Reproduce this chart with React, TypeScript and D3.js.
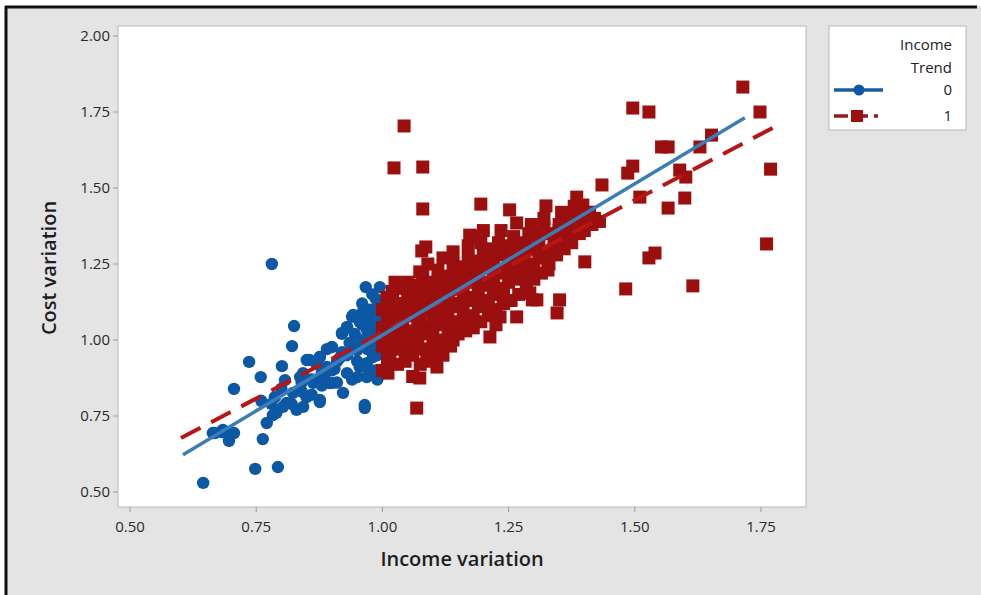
import React from 'react';
import * as d3 from 'd3';

// group 0 (income trend down) - circles
const trend0: [number, number][] = [
  [0.781, 1.25], [0.967, 1.174], [0.995, 1.174], [0.987, 1.135], [0.825, 1.046], [0.821, 0.98],
  [0.736, 0.928], [0.801, 0.914], [0.759, 0.878], [0.706, 0.839], [0.965, 0.776], [0.763, 0.674],
  [0.664, 0.694], [0.684, 0.704], [0.706, 0.694], [0.696, 0.668], [0.748, 0.576], [0.793, 0.582],
  [0.645, 0.53], [0.771, 0.727], [0.783, 0.753], [0.803, 0.78], [0.807, 0.868], [0.837, 0.878],
  [0.85, 0.934], [0.876, 0.944], [0.9, 0.977], [0.92, 1.02], [0.94, 1.076], [0.96, 1.089],
  [0.922, 0.826], [0.876, 0.796], [0.843, 0.78], [0.823, 0.826], [0.85, 0.812], [0.902, 0.859],
  [0.93, 0.891], [0.955, 0.911], [0.969, 0.878], [0.95, 0.967], [0.969, 0.99], [0.981, 0.944],
  [0.981, 1.023], [0.975, 1.056], [0.89, 0.911], [0.863, 0.859], [0.83, 0.77], [0.81, 0.793],
  [0.787, 0.812], [0.76, 0.8], [0.79, 0.76], [0.82, 0.79], [0.84, 0.83], [0.86, 0.87], [0.88, 0.89],
  [0.91, 0.93], [0.93, 0.95], [0.95, 1.0], [0.97, 1.03], [0.99, 1.06], [0.98, 1.09], [0.96, 1.05],
  [0.94, 0.98], [0.92, 0.96], [0.9, 0.9], [0.88, 0.85], [0.86, 0.82], [0.91, 0.86], [0.94, 0.87],
  [0.97, 0.91], [0.99, 0.95], [0.99, 1.0], [0.97, 0.97], [0.95, 0.93], [0.93, 1.04], [0.96, 1.12],
  [0.98, 1.15], [0.89, 0.97], [0.87, 0.92], [0.84, 0.86], [0.8, 0.84], [0.78, 0.79], [0.702, 0.694],
  [0.682, 0.697], [0.668, 0.694], [0.942, 1.082], [0.96, 1.082], [0.93, 1.043], [0.92, 1.023],
  [0.856, 0.934], [0.876, 0.944], [0.843, 0.891], [0.87, 0.868], [0.895, 0.858], [0.876, 0.803],
  [0.965, 0.786], [0.95, 0.878], [0.969, 0.924], [0.981, 0.977], [0.975, 1.033], [0.961, 1.0],
  [0.837, 0.836], [0.985, 1.08], [0.99, 1.11], [0.975, 1.1], [0.955, 1.06], [0.945, 1.02],
  [0.935, 0.99], [0.915, 0.94], [0.905, 0.905], [0.885, 0.875], [0.985, 0.9], [0.99, 0.87]
];

// group 1 (income trend up) - squares
const trend1: [number, number][] = [
  // outliers
  [1.043, 1.704], [1.023, 1.566], [1.08, 1.569], [1.08, 1.431], [1.195, 1.447], [1.252, 1.428],
  [1.324, 1.441], [1.266, 1.385], [1.175, 1.342], [1.385, 1.47], [1.086, 1.306], [1.714, 1.832],
  [1.496, 1.763], [1.528, 1.75], [1.748, 1.75], [1.652, 1.674], [1.629, 1.635], [1.553, 1.635],
  [1.566, 1.635], [1.769, 1.562], [1.496, 1.572], [1.486, 1.549], [1.589, 1.559], [1.601, 1.536],
  [1.435, 1.51], [1.51, 1.47], [1.599, 1.467], [1.566, 1.434], [1.397, 1.444], [1.761, 1.316],
  [1.54, 1.286], [1.528, 1.27], [1.401, 1.257], [1.482, 1.168], [1.615, 1.178], [1.351, 1.132],
  [1.41, 1.42], [1.39, 1.39], [1.42, 1.4], [1.4, 1.36], [1.38, 1.35], [1.43, 1.39],
  // edges of the cloud
  [1.078, 1.293], [1.173, 1.345], [1.074, 1.224], [1.009, 1.141], [1.213, 1.01], [1.346, 1.089],
  [1.266, 1.076], [1.233, 1.076], [1.297, 1.132], [1.108, 0.911], [1.074, 0.875], [1.068, 0.776],
  [1.011, 0.891], [1.011, 0.924], [1.088, 0.957], [1.054, 0.957], [1.14, 1.0], [1.328, 1.23],
  [1.292, 1.155], [1.306, 1.132], [1.239, 1.122],
  // dense band
  [1.0, 0.9], [1.01, 0.94], [1.0, 0.98], [1.01, 1.01], [1.0, 1.04], [1.01, 1.07], [1.0, 1.1],
  [1.01, 1.13], [1.02, 1.16], [1.03, 0.92], [1.03, 0.97], [1.04, 1.0], [1.03, 1.03], [1.04, 1.06],
  [1.03, 1.09], [1.04, 1.12], [1.05, 1.15], [1.05, 1.19], [1.06, 0.88], [1.06, 0.95], [1.07, 0.99],
  [1.06, 1.02], [1.07, 1.05], [1.06, 1.08], [1.07, 1.11], [1.06, 1.14], [1.07, 1.18], [1.08, 1.21],
  [1.09, 0.93], [1.09, 0.97], [1.1, 1.01], [1.09, 1.04], [1.1, 1.07], [1.09, 1.1], [1.1, 1.13],
  [1.09, 1.16], [1.1, 1.19], [1.11, 1.23], [1.12, 0.95], [1.12, 1.0], [1.13, 1.03], [1.12, 1.06],
  [1.13, 1.09], [1.12, 1.12], [1.13, 1.15], [1.12, 1.18], [1.13, 1.21], [1.14, 1.25], [1.15, 1.02],
  [1.15, 1.06], [1.16, 1.09], [1.15, 1.12], [1.16, 1.15], [1.15, 1.18], [1.16, 1.21], [1.15, 1.24],
  [1.17, 1.27], [1.18, 1.04], [1.18, 1.08], [1.19, 1.11], [1.18, 1.14], [1.19, 1.17], [1.18, 1.2],
  [1.19, 1.23], [1.18, 1.26], [1.2, 1.29], [1.21, 1.08], [1.21, 1.12], [1.22, 1.15], [1.21, 1.18],
  [1.22, 1.21], [1.21, 1.24], [1.22, 1.27], [1.21, 1.3], [1.23, 1.32], [1.24, 1.12], [1.24, 1.16],
  [1.25, 1.19], [1.24, 1.22], [1.25, 1.25], [1.24, 1.28], [1.25, 1.31], [1.26, 1.34], [1.27, 1.15],
  [1.27, 1.2], [1.28, 1.23], [1.27, 1.26], [1.28, 1.29], [1.27, 1.32], [1.29, 1.35], [1.3, 1.2],
  [1.3, 1.24], [1.31, 1.27], [1.3, 1.3], [1.31, 1.33], [1.32, 1.37], [1.33, 1.25], [1.33, 1.29],
  [1.34, 1.32], [1.33, 1.35], [1.35, 1.38], [1.36, 1.3], [1.36, 1.34], [1.37, 1.37], [1.38, 1.4],
  [1.39, 1.35], [1.4, 1.38], [1.41, 1.42], [1.38, 1.44],
  // in-between fill
  [1.015, 0.96], [1.02, 1.0], [1.015, 1.05], [1.02, 1.09], [1.015, 1.12], [1.025, 1.19],
  [1.045, 0.93], [1.05, 0.98], [1.045, 1.03], [1.05, 1.08], [1.055, 1.11], [1.045, 1.17],
  [1.075, 0.92], [1.08, 0.97], [1.085, 1.02], [1.075, 1.07], [1.08, 1.14], [1.085, 1.17], [1.09, 1.25],
  [1.105, 0.95], [1.11, 0.99], [1.105, 1.05], [1.11, 1.09], [1.105, 1.15], [1.115, 1.2], [1.12, 1.27],
  [1.135, 0.98], [1.14, 1.05], [1.135, 1.11], [1.14, 1.17], [1.145, 1.22], [1.14, 1.29],
  [1.165, 1.03], [1.17, 1.07], [1.165, 1.13], [1.17, 1.19], [1.165, 1.24], [1.17, 1.31],
  [1.195, 1.06], [1.2, 1.13], [1.195, 1.19], [1.2, 1.25], [1.195, 1.32], [1.2, 1.36],
  [1.225, 1.1], [1.23, 1.17], [1.225, 1.23], [1.23, 1.29], [1.235, 1.36], [1.225, 1.05],
  [1.255, 1.13], [1.26, 1.21], [1.255, 1.27], [1.26, 1.3], [1.265, 1.24],
  [1.285, 1.17], [1.29, 1.25], [1.285, 1.31], [1.295, 1.38], [1.29, 1.21],
  [1.315, 1.22], [1.32, 1.29], [1.315, 1.35], [1.32, 1.4], [1.345, 1.28], [1.35, 1.36],
  [1.355, 1.42], [1.375, 1.32], [1.385, 1.38], [1.365, 1.4], [1.395, 1.41], [1.415, 1.38]
];

// fitted lines: [x start, x end], intercept, slope
const fit0 = { range: [0.605, 1.718], a: 0.02, b: 0.996 };
const fit1 = { range: [0.601, 1.773], a: 0.155, b: 0.87 };

const xTicks = [0.5, 0.75, 1.0, 1.25, 1.5, 1.75];
const yTicks = [0.5, 0.75, 1.0, 1.25, 1.5, 1.75, 2.0];
const legendLabels = ['0', '1'];

const BLUE = '#0c58a4';
const RED = '#9c0f0f';
const FIT_BLUE = '#3b7dbb';
const FIT_RED = '#b81616';
const FONT = '"Open Sans", "Noto Sans", sans-serif';

export default function App() {
  const plot = { left: 118, right: 806, top: 26, bottom: 507 };

  const x = d3.scaleLinear().domain([0.5, 1.75]).range([130, 761]);
  const y = d3.scaleLinear().domain([0.5, 2.0]).range([492, 36]);

  const fitLine = (f: typeof fit0) =>
    d3.line<number>()
      .x(d => x(d))
      .y(d => y(f.a + f.b * d))(f.range) || '';

  const sq = 13;

  return (
    <svg width={981} height={595} style={{ position: 'absolute', left: 0, top: 0 }} fontFamily={FONT}>
      <rect x={0} y={0} width={981} height={595} fill="#ffffff" />
      <rect x={5} y={6} width={976} height={589} fill="#e4e4e4" />
      <line x1={5} y1={7} x2={977} y2={7} stroke="#111" strokeWidth={3} />
      <line x1={6} y1={6} x2={6} y2={595} stroke="#111" strokeWidth={3} />

      {/* plot area */}
      <rect x={plot.left} y={plot.top} width={plot.right - plot.left} height={plot.bottom - plot.top}
        fill="#ffffff" stroke="#b8b8b8" strokeWidth={1} />

      {/* y axis */}
      {yTicks.map(t => (
        <g key={`y${t}`}>
          <line x1={plot.left - 5} x2={plot.left} y1={y(t)} y2={y(t)} stroke="#9a9a9a" />
          <text x={plot.left - 8} y={y(t)} dy="0.35em" textAnchor="end" fontSize={15} fill="#2a2a2a">
            {d3.format('.2f')(t)}
          </text>
        </g>
      ))}
      {/* x axis */}
      {xTicks.map(t => (
        <g key={`x${t}`}>
          <line x1={x(t)} x2={x(t)} y1={plot.bottom} y2={plot.bottom + 5} stroke="#9a9a9a" />
          <text x={x(t)} y={plot.bottom + 25} textAnchor="middle" fontSize={15} fill="#2a2a2a">
            {d3.format('.2f')(t)}
          </text>
        </g>
      ))}

      <text x={462} y={566} textAnchor="middle" fontSize={20} fontWeight={600} fill="#1e1e1e">Income variation</text>
      <text transform="translate(56,268) rotate(-90)" textAnchor="middle" fontSize={20} fontWeight={600} fill="#1e1e1e">
        Cost variation
      </text>

      {/* points */}
      <g>
        {trend0.map((d, i) => (
          <circle key={`c${i}`} cx={x(d[0])} cy={y(d[1])} r={6.2} fill={BLUE} />
        ))}
        {trend1.map((d, i) => (
          <rect key={`s${i}`} x={x(d[0]) - sq / 2} y={y(d[1]) - sq / 2} width={sq} height={sq} fill={RED} />
        ))}
      </g>

      {/* fitted lines */}
      <path d={fitLine(fit1)} fill="none" stroke={FIT_RED} strokeWidth={4} strokeDasharray="22,12" />
      <path d={fitLine(fit0)} fill="none" stroke={FIT_BLUE} strokeWidth={3.5} />

      {/* legend */}
      <g>
        <rect x={829} y={26} width={137} height={104} fill="#ffffff" stroke="#b8b8b8" />
        <text x={952} y={50} textAnchor="end" fontSize={15} fill="#222">Income</text>
        <text x={952} y={73} textAnchor="end" fontSize={15} fill="#222">Trend</text>
        {legendLabels.map((l, i) => {
          const ly = 90 + i * 26;
          return (
            <g key={l}>
              {i === 0 ? (
                <>
                  <line x1={834} x2={883} y1={ly} y2={ly} stroke="#185e9e" strokeWidth={3.5} />
                  <circle cx={859} cy={ly} r={5.5} fill={BLUE} />
                </>
              ) : (
                <>
                  <line x1={834} x2={878} y1={ly} y2={ly} stroke="#8d1b1b" strokeWidth={3.5} strokeDasharray="14,6" />
                  <rect x={851} y={ly - 6} width={12} height={12} fill={RED} />
                </>
              )}
              <text x={952} y={ly} dy="0.35em" textAnchor="end" fontSize={15} fill="#222">{l}</text>
            </g>
          );
        })}
      </g>
    </svg>
  );
}
